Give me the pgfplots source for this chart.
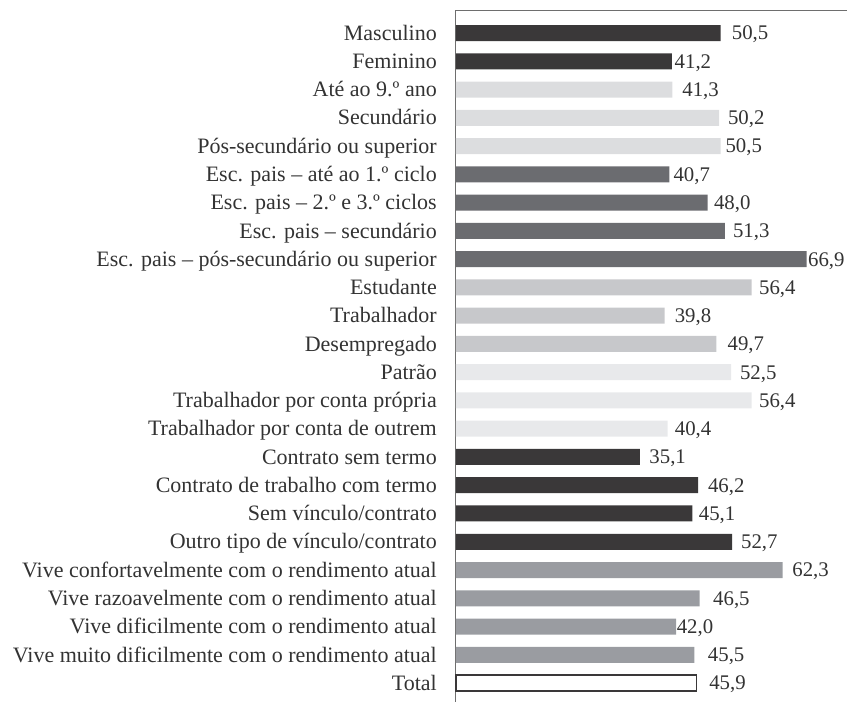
\documentclass[border=0pt]{standalone}
\usepackage{fontspec}
\setmainfont{Liberation Serif}
\usepackage{pgfplots}
\pgfplotsset{compat=1.18}
\usepackage{pgfplotstable}

\definecolor{cA}{HTML}{3A3839}
\definecolor{cB}{HTML}{DCDDDF}
\definecolor{cC}{HTML}{6B6C70}
\definecolor{cD}{HTML}{C7C8CB}
\definecolor{cE}{HTML}{E8E9EB}
\definecolor{cF}{HTML}{9A9CA1}
\definecolor{txt}{HTML}{333333}
\definecolor{axl}{HTML}{6E6E6E}

\pgfplotstableread{
y val lab off
0 50.5 50,5 11
1 41.2 41,2 2.6
}\gA
\pgfplotstableread{
y val lab off
2 41.3 41,3 9.7
3 50.2 50,2 8.7
4 50.5 50,5 4.7
}\gB
\pgfplotstableread{
y val lab off
5 40.7 40,7 4
6 48.0 48,0 6.3
7 51.3 51,3 8
8 66.9 66,9 1.3
}\gC
\pgfplotstableread{
y val lab off
9 56.4 56,4 7.3
10 39.8 39,8 10
11 49.7 49,7 11
}\gD
\pgfplotstableread{
y val lab off
12 52.5 52,5 8.7
13 56.4 56,4 7.3
14 40.4 40,4 7
}\gE
\pgfplotstableread{
y val lab off
15 35.1 35,1 9.3
16 46.2 46,2 9.7
17 45.1 45,1 6.3
18 52.7 52,7 8.7
}\gF
\pgfplotstableread{
y val lab off
19 62.3 62,3 9.7
20 46.5 46,5 13.3
21 42.0 42,0 0.5
22 45.5 45,5 13.3
}\gG
\pgfplotstableread{
y val lab off
23 45.9 45,9 12
}\gH

\pgfplotsset{
  mybar/.style={
    fill=#1, draw=none, bar width=16pt, bar shift=0pt,
    nodes near coords, point meta=explicit symbolic,
    visualization depends on={\thisrow{off}\as\off},
    nodes near coords style={anchor=base west, inner sep=0pt,
      xshift=\off pt, yshift=-6.9pt,
      font=\fontsize{20.8}{24}\selectfont, text=txt},
  }
}

\begin{document}
\begin{tikzpicture}
\useasboundingbox (-456pt,0pt) rectangle (391pt,702pt);
\begin{axis}[
  at={(0pt,0pt)}, anchor=south west,
  scale only axis, width=391pt, height=692pt,
  xbar, y dir=reverse,
  xmin=0, xmax=74.6, ymin=-0.814, ymax=23.67,
  enlargelimits=false, clip=false,
  axis x line*=top, axis y line*=left,
  axis line style={-, draw=axl, line width=1pt},
  xtick=\empty,
  ytick={0,...,23}, major tick length=0pt,
  yticklabels={Masculino, Feminino, Até ao 9.º ano, Secundário, Pós-secundário ou superior,
    Esc. pais – até ao 1.º ciclo, Esc. pais – 2.º e 3.º ciclos, Esc. pais – secundário,
    Esc. pais – pós-secundário ou superior, Estudante, Trabalhador, Desempregado, Patrão,
    Trabalhador por conta própria, Trabalhador por conta de outrem, Contrato sem termo,
    Contrato de trabalho com termo, Sem vínculo/contrato, Outro tipo de vínculo/contrato,
    Vive confortavelmente com o rendimento atual, Vive razoavelmente com o rendimento atual,
    Vive dificilmente com o rendimento atual, Vive muito dificilmente com o rendimento atual, Total},
  yticklabel style={anchor=base east, inner sep=0pt, xshift=-19pt, yshift=-7.2pt,
    font=\fontsize{22}{26}\selectfont, text=txt},
]
\addplot[mybar=cA] table[x=val, y=y, meta=lab]{\gA};
\addplot[mybar=cB] table[x=val, y=y, meta=lab]{\gB};
\addplot[mybar=cC] table[x=val, y=y, meta=lab]{\gC};
\addplot[mybar=cD] table[x=val, y=y, meta=lab]{\gD};
\addplot[mybar=cE] table[x=val, y=y, meta=lab]{\gE};
\addplot[mybar=cA] table[x=val, y=y, meta=lab]{\gF};
\addplot[mybar=cF] table[x=val, y=y, meta=lab]{\gG};
\addplot[mybar=white, draw=cA, line width=1.5pt] table[x=val, y=y, meta=lab]{\gH};
\end{axis}
\end{tikzpicture}
\end{document}
